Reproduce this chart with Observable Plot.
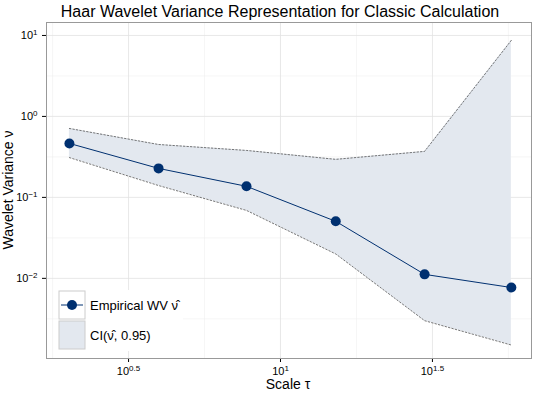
<!DOCTYPE html>
<html><head><meta charset="utf-8">
<script src="https://cdn.jsdelivr.net/npm/d3@7"></script>
<script src="https://cdn.jsdelivr.net/npm/@observablehq/plot@0.6"></script>
<style>
body{margin:0;background:#fff;font-family:"Liberation Sans",Arial,sans-serif;}
#t{height:22px;line-height:24px;text-align:center;font-size:16px;color:#000;padding-left:20px;}
</style></head><body>
<div id="t">Haar Wavelet Variance Representation for Classic Calculation</div>
<div id="c"></div>
<script>
const scale = [2.02, 3.97, 7.73, 15.2, 29.8, 57.5];
const wv    = [0.464, 0.228, 0.137, 0.0506, 0.0112, 0.0077];
const upper = [0.71, 0.45, 0.38, 0.295, 0.37, 8.7];
const lower = [0.31, 0.14, 0.069, 0.020, 0.0030, 0.0015];
const xMajor = [0.5, 1, 1.5], xMinor = [0.25, 0.75, 1.25, 1.75];
const yMajor = [-2, -1, 0, 1], yMinor = [-2.5, -1.5, -0.5, 0.5];

const data = scale.map((s, i) => ({s, v: wv[i], lo: lower[i], hi: upper[i]}));
const p10 = e => Math.pow(10, e);
const xd = [p10(0.23), p10(1.826)], yd = [p10(-2.99), p10(1.16)];

const chart = Plot.plot({
  width: 540, height: 378, marginLeft: 46, marginRight: 9, marginTop: 0, marginBottom: 42,
  style: {fontFamily: "Liberation Sans, Arial, sans-serif", fontSize: "11px", color: "#000"},
  x: {type: "log", domain: xd, ticks: xMajor.map(p10), tickFormat: d => "10|" + d3.format("~g")(Math.log10(d)), label: null, tickSize: 4},
  y: {type: "log", domain: yd, ticks: yMajor.map(p10), tickFormat: d => "10|" + d3.format("~g")(Math.log10(d)), label: null, tickSize: 4},
  marks: [
    Plot.ruleX(xMinor.map(p10), {stroke: "#ececec", strokeWidth: 0.5}),
    Plot.ruleY(yMinor.map(p10), {stroke: "#ececec", strokeWidth: 0.5}),
    Plot.ruleX(xMajor.map(p10), {stroke: "#e2e2e2", strokeWidth: 0.8}),
    Plot.ruleY(yMajor.map(p10), {stroke: "#e2e2e2", strokeWidth: 0.8}),
    Plot.areaY(data, {x: "s", y1: "lo", y2: "hi", fill: "#e3e8ef", curve: "linear"}),
    Plot.line(data, {x: "s", y: "hi", stroke: "#555", strokeWidth: 0.8, strokeDasharray: "1.5,2"}),
    Plot.line(data, {x: "s", y: "lo", stroke: "#555", strokeWidth: 0.8, strokeDasharray: "1.5,2"}),
    Plot.line(data, {x: "s", y: "v", stroke: "#003070", strokeWidth: 1}),
    Plot.dot(data, {x: "s", y: "v", fill: "#003070", r: 5}),
    Plot.frame({stroke: "#999", strokeWidth: 1})
  ]
});
const svg = d3.select(chart);
svg.selectAll("text").each(function(){
  const t = d3.select(this); const s = t.text();
  if (s.startsWith("10|")) {
    const e = s.slice(3); t.text("");
    t.append("tspan").text("10");
    t.append("tspan").attr("dy", "-0.5em").attr("font-size", "8px").text(e);
  }
});
// axis titles
svg.append("text").attr("x", 288).attr("y", 367).attr("text-anchor", "middle").attr("font-size", 14).attr("fill", "#000").text("Scale τ");
svg.append("text").attr("transform", "translate(13,168) rotate(-90)").attr("text-anchor", "middle").attr("font-size", 14).attr("fill", "#000").text("Wavelet Variance ν");
// legend
const g = svg.append("g").attr("transform", "translate(58,268)").attr("text-anchor", "start");
g.append("rect").attr("width", 125).attr("height", 61).attr("fill", "#ffffff").attr("stroke", "none");
g.append("rect").attr("x", 1).attr("y", 1).attr("width", 26).attr("height", 28).attr("fill", "#ffffff").attr("stroke", "#cccccc");
g.append("line").attr("x1", 3).attr("x2", 25).attr("y1", 15).attr("y2", 15).attr("stroke", "#003070");
g.append("circle").attr("cx", 14).attr("cy", 15).attr("r", 5).attr("fill", "#003070");
g.append("rect").attr("x", 1).attr("y", 31).attr("width", 26).attr("height", 28).attr("fill", "#e3e8ef").attr("stroke", "#cccccc");
g.append("text").attr("x", 32).attr("y", 20).attr("font-size", 13).attr("text-anchor", "start").attr("fill", "#000").text("Empirical WV ν̂");
g.append("text").attr("x", 32).attr("y", 50).attr("font-size", 13).attr("text-anchor", "start").attr("fill", "#000").text("CI(ν̂, 0.95)");
document.getElementById("c").appendChild(chart);
</script></body></html>
